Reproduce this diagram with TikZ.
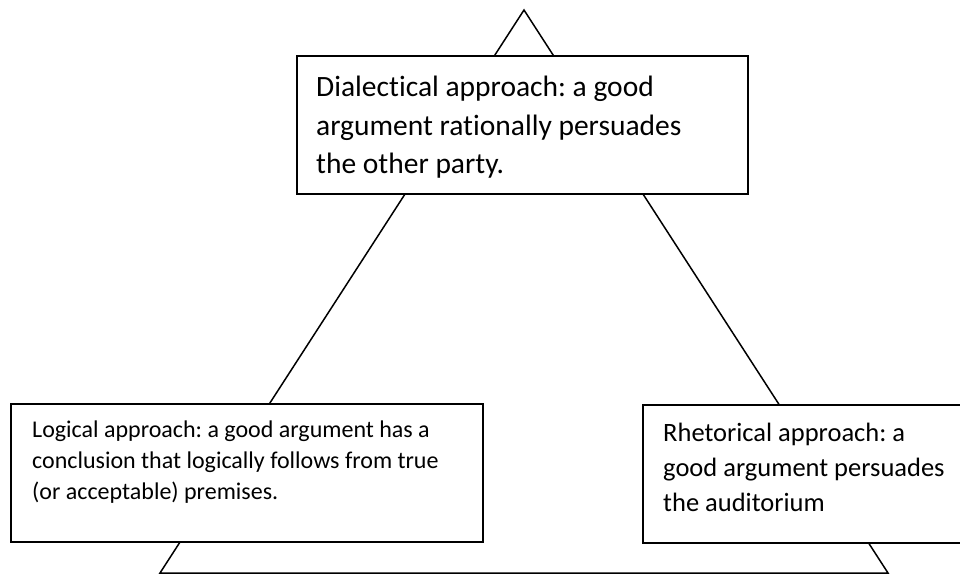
\documentclass[tikz,border=0pt]{standalone}
\usepackage{fontspec}
\setmainfont{Carlito}[Ligatures={NoCommon}]
\frenchspacing
\begin{document}
\begin{tikzpicture}[x=1pt,y=-1pt,
  box/.style={draw=black, line width=2pt, fill=white, rectangle, inner sep=0pt, anchor=north west},
  txt/.style={anchor=north west, align=left, inner sep=0pt},
  edge/.style={draw=black, line width=1.5pt, line join=miter}]
\useasboundingbox (0,0) rectangle (960,575);
\coordinate (A) at (524,10);
\coordinate (B) at (160,573);
\coordinate (C) at (888,573);
\draw[edge] (A) -- (B) -- (C) -- cycle;
\node[box, minimum width=451pt, minimum height=138pt] (topbox) at (296,55) {};
\node[box, minimum width=472pt, minimum height=138pt] (leftbox) at (10,403) {};
\node[box, minimum width=320pt, minimum height=138pt] (rightbox) at (642,404) {};
\node[txt, font=\fontsize{29.5}{38.5}\selectfont] (toptext) at (316,76)
  {Dialectical approach: a good\\argument rationally persuades\\the other party.};
\node[txt, font=\fontsize{24}{31}\selectfont] (lefttext) at (32,421)
  {Logical approach: a good argument has a\\conclusion that logically follows from true\\(or acceptable) premises.};
\node[txt, font=\fontsize{26.5}{35}\selectfont] (righttext) at (663,423)
  {Rhetorical approach: a\\good argument persuades\\the auditorium};
\end{tikzpicture}
\end{document}
